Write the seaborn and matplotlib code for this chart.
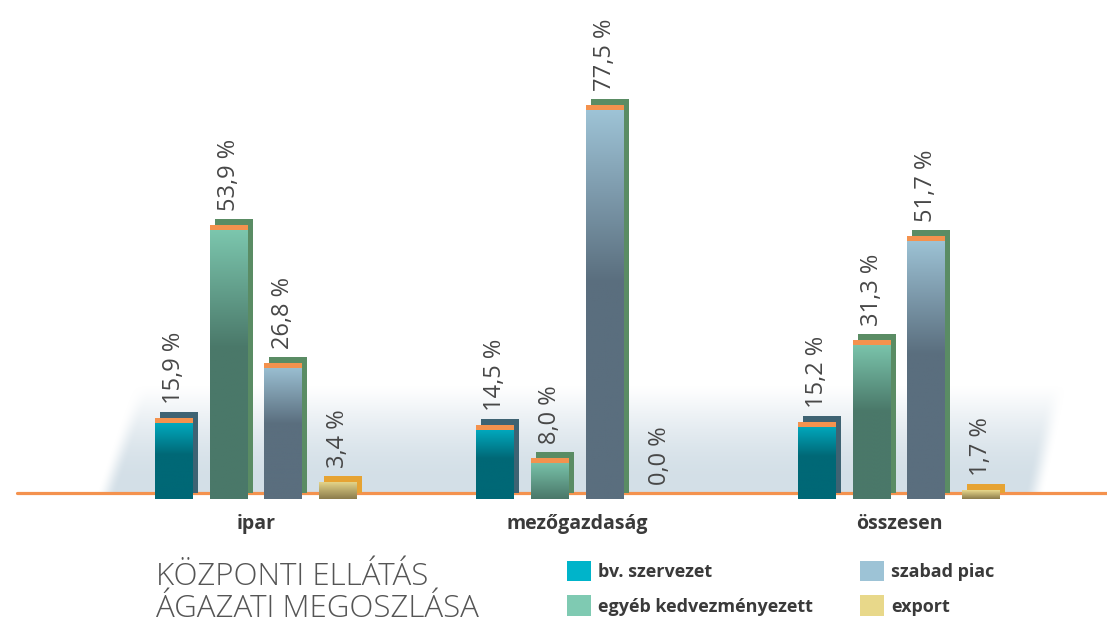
import numpy as np
import pandas as pd
import matplotlib
matplotlib.use('Agg')
import matplotlib.pyplot as plt
import seaborn as sns
from matplotlib.patches import Rectangle, Patch
from matplotlib.colors import to_rgb

# Adatok
agazatok = ['ipar', 'mezőgazdaság', 'összesen']
csoportok = ['bv. szervezet', 'egyéb kedvezményezett', 'szabad piac', 'export']
bv_szervezet = [15.9, 14.5, 15.2]
egyeb_kedvezmenyezett = [53.9, 8.0, 31.3]
szabad_piac = [26.8, 77.5, 51.7]
export = [3.4, 0.0, 1.7]

# Színek: oszlop teteje, oszlop alja, árnyék, jelmagyarázat
szin_fent = ['#00b3c9', '#7ecab1', '#a0c6d9', '#e9d98c']
szin_lent = ['#006876', '#4a7869', '#5a6e7e', '#8c7c4c']
szin_arnyek = ['#3e6373', '#5a8c64', '#5a8c64', '#e6a333']
szin_jel = ['#00b4ca', '#7fcab2', '#9dc3d6', '#e8d88a']
narancs = '#f4924e'

df = pd.DataFrame({
    'agazat': agazatok * 4,
    'csoport': np.repeat(csoportok, 3),
    'arany': bv_szervezet + egyeb_kedvezmenyezett + szabad_piac + export,
})

sns.set_style('white')
plt.rcParams['font.family'] = ['Open Sans', 'DejaVu Sans']

W, H = 1107, 626
fig = plt.figure(figsize=(W / 100, H / 100), dpi=100)
ax = fig.add_axes([0, 0, 1, 1])

sns.barplot(data=df, x='agazat', y='arany', hue='csoport', order=agazatok,
            hue_order=csoportok, palette=szin_lent, width=0.682, gap=0.308,
            errorbar=None, legend=False, ax=ax, zorder=4, linewidth=0)

# skála: nulla a 499. pixelen, 5.09 px / %, csoportok 321.5 px-re
x0, xs = 256, 321.5
y0, ys = 499, 5.09
xlim = (-x0 / xs, (W - x0) / xs)
ylim = (-(H - y0) / ys, y0 / ys)
dx, dy = 5 / xs, 6 / ys

# háttérsáv (lágy szélekkel)
bx0, bx1, by0, by1 = 80, 1085, 385, 493
px = np.arange(bx0, bx1)[None, :]
py = np.arange(by0, by1)[:, None]
v = (py - by0) / (by1 - by0)            # 0 fent, 1 lent
bal = 100 + (135 - 100) * (1 - (py - 388) / (493 - 388))
jobb = 1040 + (1063 - 1040) * (1 - (py - 388) / (493 - 388))
def sima(z):
    z = np.clip(z, 0, 1)
    return z * z * (3 - 2 * z)
alpha = sima(v * 1.1) ** 0.6 * sima((px - bal) / 20 + 0.2) * sima((jobb - px) / 20 + 0.2)
band = np.zeros(alpha.shape + (4,))
band[..., :3] = to_rgb('#d3dfe8')
band[..., 3] = alpha
ax.imshow(band, extent=[bx0 / W, bx1 / W, 1 - by1 / H, 1 - by0 / H],
          transform=ax.transAxes, origin='upper', aspect='auto', zorder=0)

# alapvonal
ax.axhline(dy, xmin=17 / W, xmax=1, color=narancs, lw=2.3, zorder=2)

for i, cont in enumerate(ax.containers):
    c_top = np.array(to_rgb(szin_fent[i]))
    c_bot = np.array(to_rgb(szin_lent[i]))
    for bar in cont:
        x, w, h = bar.get_x(), bar.get_width(), bar.get_height()
        if h > 0:
            ax.add_patch(Rectangle((x + dx, dy), w, h, facecolor=szin_arnyek[i],
                                   edgecolor='none', zorder=3))
            # színátmenet
            n = 200
            tt = np.linspace(0, 1, n)[:, None]  # 0 alul, 1 fent
            frac = 1.0 if (i == 3 or h * ys < 60) else 0.45
            s = np.clip((tt - (1 - frac)) / frac, 0, 1)
            arr = c_bot[None, None, :] * (1 - s[..., None]) + c_top[None, None, :] * s[..., None]
            im = ax.imshow(arr, extent=[x, x + w, 0, h], origin='lower',
                           aspect='auto', zorder=5)
            im.set_clip_path(bar)
            if i != 3:
                ax.add_patch(Rectangle((x, h - 5 / ys), w, 5 / ys, facecolor=narancs,
                                       edgecolor='none', zorder=6))
        ax.annotate(f'{h:.1f} %'.replace('.', ','), xy=(x + w / 2, h),
                    xytext=(0, 14), textcoords='offset pixels', rotation=90,
                    ha='center', va='bottom', fontsize=17, color='#474747')

for k, nev in enumerate(agazatok):
    ax.text(k, -(524 - y0) / ys, nev, ha='center', va='center', fontsize=14,
            fontweight='bold', color='#3a3a3a')

ax.set_xlim(xlim)
ax.set_ylim(ylim)
ax.set_axis_off()

# cím
fig.text(156 / W, 1 - 577 / H, 'KÖZPONTI ELLÁTÁS', fontsize=22.5, fontweight='light',
         color='#555555', va='center', ha='left')
fig.text(156 / W, 1 - 609 / H, 'ÁGAZATI MEGOSZLÁSA', fontsize=22.5, fontweight='light',
         color='#555555', va='center', ha='left')

# jelmagyarázat
handles = [Patch(facecolor=c, edgecolor='none') for c in szin_jel]
fig.legend(handles, csoportok, ncol=2, loc='upper left',
           bbox_to_anchor=(567 / W, 1 - 561 / H), frameon=False,
           prop={'weight': 'bold', 'size': 13}, labelcolor='#3a3a3a',
           handlelength=1.33, handleheight=1.33, handletextpad=0.39,
           columnspacing=2.62, labelspacing=0.8, borderpad=0, borderaxespad=0)

fig.savefig('out.png', dpi=100)
